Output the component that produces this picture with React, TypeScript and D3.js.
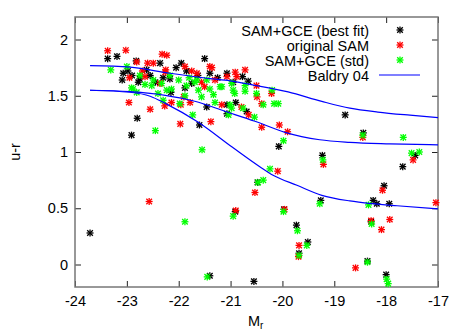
import React, { useRef, useEffect } from 'react';
import * as d3 from 'd3';

const WIDTH = 463;
const HEIGHT = 331;
const MARGIN = { top: 17, right: 25, bottom: 44, left: 75 };

// [M_r, u-r]
const bestFit: [number, number][] = [
  [-23.71, 0.28], [-23.37, 1.83], [-23.19, 1.85], [-23.09, 1.64], [-23.07, 1.70],
  [-22.98, 1.72], [-22.91, 1.15], [-22.82, 1.81], [-22.80, 1.30], [-22.78, 1.62],
  [-22.75, 1.65], [-22.62, 1.73], [-22.45, 1.62], [-22.36, 1.79], [-22.30, 1.66],
  [-22.17, 1.65], [-22.15, 1.53], [-22.05, 1.75], [-21.95, 1.79], [-21.88, 1.57],
  [-21.85, 1.72], [-21.63, 1.68], [-21.60, 1.24], [-21.50, 1.83], [-21.46, 1.40],
  [-21.40, 1.70], [-21.40, -0.10], [-21.07, 1.70], [-21.07, 1.42], [-21.07, 1.34],
  [-20.95, 1.62], [-20.91, 0.47], [-20.90, 1.44], [-20.77, 1.67], [-20.69, 1.36],
  [-20.66, 1.63], [-20.55, -0.15], [-20.48, 0.73], [-20.07, 1.05], [-19.97, 0.49],
  [-19.73, 0.35], [-19.68, 0.10], [-19.51, 0.20], [-19.26, 0.57], [-19.23, 0.97],
  [-18.79, 1.33], [-18.44, 1.17], [-18.36, 0.03], [-18.29, 0.38], [-18.25, 0.57],
  [-18.18, 0.54], [-18.04, 0.70], [-18.00, -0.09], [-17.94, 0.54], [-17.68, 0.87],
  [-17.44, 0.97], [-22.90, 1.68], [-22.55, 1.68], [-21.75, 1.61], [-21.25, 1.66],
];

const originalSam: [number, number][] = [
  [-23.37, 1.90], [-23.02, 1.905], [-22.96, 1.44], [-22.81, 1.80], [-22.65, 1.67],
  [-22.60, 1.79], [-22.57, 0.56], [-22.55, 1.38], [-22.49, 1.79], [-22.36, 1.61],
  [-22.32, 1.87], [-22.27, 1.41], [-22.26, 1.71], [-22.25, 1.73], [-22.23, 1.86],
  [-22.14, 1.44], [-21.97, 1.25], [-21.96, 1.42], [-21.90, 1.49], [-21.88, 1.76],
  [-21.78, 1.44], [-21.75, 1.72], [-21.56, 1.62], [-21.40, 1.76], [-21.38, 1.27],
  [-21.36, 1.75], [-21.30, 1.64], [-21.17, 1.42], [-21.07, 1.67], [-20.91, 1.71],
  [-20.90, 0.48], [-20.88, 1.67], [-20.79, 1.40], [-20.72, 1.73], [-20.65, 1.33],
  [-20.53, 0.64], [-20.50, 1.59], [-20.49, 1.49], [-20.40, 1.43], [-20.40, 1.22],
  [-20.21, 1.52], [-20.09, 0.83], [-20.06, 1.24], [-19.96, 0.49], [-19.90, 1.18],
  [-19.69, 0.07], [-19.68, 0.17], [-19.21, 0.89], [-18.59, -0.03], [-18.45, 1.13],
  [-18.29, 0.39], [-18.09, 0.31], [-18.07, 0.66], [-17.93, 0.40], [-17.48, 0.93],
  [-17.04, 0.55], [-22.95, 1.66], [-22.70, 1.72], [-21.65, 1.70], [-21.50, 1.58],
];

const gceStd: [number, number][] = [
  [-23.31, 1.73], [-23.00, 1.76], [-22.91, 1.57], [-22.88, 1.56], [-22.81, 1.53],
  [-22.75, 1.68], [-22.52, 1.59], [-22.49, 1.64], [-22.45, 1.19], [-22.33, 1.61],
  [-22.30, 1.46], [-22.23, 1.55], [-22.17, 1.68], [-22.14, 1.56], [-22.00, 1.64],
  [-21.98, 1.43], [-21.88, 1.50], [-21.88, 0.38], [-21.85, 1.59], [-21.73, 1.33],
  [-21.69, 1.62], [-21.65, 1.64], [-21.62, 1.55], [-21.56, 1.49], [-21.55, 1.02],
  [-21.46, 1.64], [-21.45, -0.11], [-21.33, 1.51], [-21.30, 1.44], [-21.20, 1.58],
  [-21.17, 1.58], [-21.04, 1.33], [-21.01, 1.42], [-20.98, 1.61], [-20.98, 1.39],
  [-20.95, 1.55], [-20.95, 0.43], [-20.92, 1.52], [-20.76, 1.39], [-20.72, 1.54],
  [-20.72, 1.59], [-20.54, 1.31], [-20.50, 1.52], [-20.47, 0.73], [-20.37, 1.42],
  [-20.37, 0.75], [-20.24, 0.85], [-20.20, 1.55], [-20.16, 1.43], [-20.08, 1.43],
  [-19.98, 1.10], [-19.98, 0.47], [-19.71, 0.30], [-19.68, 0.08], [-19.53, 0.17],
  [-19.28, 0.54], [-19.22, 0.93], [-18.45, 1.15], [-18.36, 0.02], [-18.34, 0.53],
  [-18.28, 0.36], [-17.99, -0.13], [-17.96, -0.17], [-17.67, 1.13], [-17.51, 0.99],
  [-17.36, 1.00], [-22.65, 1.60], [-22.40, 1.52], [-21.80, 1.66], [-21.40, 1.56],
];

// Baldry 04 curves
const baldryTop: [number, number][] = [
  [-23.71, 1.767], [-22.94, 1.754], [-22.17, 1.70], [-21.40, 1.653], [-21.01, 1.633],
  [-20.53, 1.593], [-19.89, 1.534], [-19.24, 1.45], [-18.70, 1.39], [-18.16, 1.355],
  [-17.54, 1.327], [-17.0, 1.306],
];
const baldryMid: [number, number][] = [
  [-23.71, 1.549], [-22.94, 1.536], [-22.26, 1.504], [-21.69, 1.451], [-21.11, 1.362],
  [-20.53, 1.273], [-19.95, 1.175], [-19.28, 1.109], [-18.70, 1.086], [-17.93, 1.073],
  [-17.0, 1.064],
];
const baldryLow: [number, number][] = [
  [-23.71, 1.549], [-22.94, 1.531], [-22.55, 1.496], [-22.25, 1.43], [-21.63, 1.267],
  [-20.97, 1.044], [-20.43, 0.867], [-20.18, 0.793], [-19.72, 0.704], [-19.24, 0.615],
  [-18.70, 0.565], [-18.27, 0.541], [-17.79, 0.522], [-17.0, 0.495],
];

const xTicks = [-24, -23, -22, -21, -20, -19, -18, -17];
const yTicks = [0, 0.5, 1, 1.5, 2];

const series = [
  { label: 'SAM+GCE (best fit)', data: bestFit, color: '#000000' },
  { label: 'original SAM', data: originalSam, color: '#ff0000' },
  { label: 'SAM+GCE (std)', data: gceStd, color: '#00ff00' },
];

const FONT = '"Liberation Sans", Arial, sans-serif';

function star(sel: any, color: string) {
  // gnuplot-style asterisk: + and x together
  const a = 3.5, b = 2.8;
  sel.append('line').attr('x1', -a).attr('x2', a).attr('y1', 0).attr('y2', 0);
  sel.append('line').attr('x1', 0).attr('x2', 0).attr('y1', -a).attr('y2', a);
  sel.append('line').attr('x1', -b).attr('x2', b).attr('y1', -b).attr('y2', b);
  sel.append('line').attr('x1', -b).attr('x2', b).attr('y1', b).attr('y2', -b);
  sel.selectAll('line').attr('stroke', color).attr('stroke-width', 1.3);
}

export default function App() {
  const svgRef = useRef<SVGSVGElement | null>(null);

  useEffect(() => {
    const svg = d3.select(svgRef.current);
    svg.selectAll('*').remove();

    const w = WIDTH - MARGIN.left - MARGIN.right;
    const h = HEIGHT - MARGIN.top - MARGIN.bottom;

    const x = d3.scaleLinear().domain([-24, -17]).range([0, w]);
    const y = d3.scaleLinear().domain([-0.2, 2.2]).range([h, 0]);

    const g = svg.append('g').attr('transform', `translate(${MARGIN.left},${MARGIN.top})`);

    const styleAxis = (ax: any) => {
      ax.select('.domain').remove();
      ax.selectAll('line').attr('stroke', '#222').attr('stroke-width', 1);
      ax.selectAll('text').attr('fill', '#000').attr('font-size', '14.5px').attr('font-family', FONT);
    };

    const fmt = (d: any) => String(d);

    styleAxis(g.append('g').attr('transform', `translate(0,${h})`)
      .call(d3.axisBottom(x).tickValues(xTicks).tickSizeInner(-6).tickSizeOuter(0).tickPadding(9).tickFormat(fmt)));
    styleAxis(g.append('g')
      .call(d3.axisTop(x).tickValues(xTicks).tickSizeInner(-6).tickSizeOuter(0).tickFormat(() => '')));
    styleAxis(g.append('g')
      .call(d3.axisLeft(y).tickValues(yTicks).tickSizeInner(-6).tickSizeOuter(0).tickPadding(7).tickFormat(fmt)));
    styleAxis(g.append('g').attr('transform', `translate(${w},0)`)
      .call(d3.axisRight(y).tickValues(yTicks).tickSizeInner(-6).tickSizeOuter(0).tickFormat(() => '')));

    // border
    g.append('rect')
      .attr('x', 0).attr('y', 0).attr('width', w).attr('height', h)
      .attr('fill', 'none').attr('stroke', '#777').attr('stroke-width', 1.5);

    // points
    series.forEach(s => {
      const pts = g.append('g');
      s.data.forEach(d => {
        const m = pts.append('g').attr('transform', `translate(${x(d[0])},${y(d[1])})`);
        star(m, s.color);
      });
    });

    // Baldry 04 curves
    const line = d3.line<[number, number]>()
      .x(d => x(d[0])).y(d => y(d[1]))
      .curve(d3.curveMonotoneX);
    [baldryTop, baldryMid, baldryLow].forEach(c => {
      g.append('path').attr('d', line(c) as string)
        .attr('fill', 'none').attr('stroke', '#0000ff').attr('stroke-width', 1.2);
    });

    // legend
    const leg = svg.append('g');
    const rows = [...series.map(s => s.label), 'Baldry 04'];
    rows.forEach((label, i) => {
      const cy = 30 + i * 15;
      leg.append('text')
        .attr('x', 369).attr('y', cy + 5.5)
        .attr('text-anchor', 'end')
        .attr('font-size', '14.5px').attr('font-family', FONT).attr('fill', '#000')
        .text(label);
      if (i < series.length) {
        star(leg.append('g').attr('transform', `translate(400,${cy})`), series[i].color);
      } else {
        leg.append('line').attr('x1', 379).attr('x2', 420).attr('y1', cy).attr('y2', cy)
          .attr('stroke', '#0000ff').attr('stroke-width', 1.2);
      }
    });

    // axis labels
    svg.append('text')
      .attr('transform', `translate(20,${MARGIN.top + h / 2}) rotate(-90)`)
      .attr('text-anchor', 'middle')
      .attr('font-size', '14.5px').attr('font-family', FONT).attr('fill', '#000')
      .text('u-r');

    const xl = svg.append('text')
      .attr('x', 248).attr('y', 326)
      .attr('font-size', '14.5px').attr('font-family', FONT).attr('fill', '#000');
    xl.append('tspan').text('M');
    xl.append('tspan').attr('dy', 3).attr('font-size', '10px').text('r');
  }, []);

  return (
    <svg
      ref={svgRef}
      width={WIDTH}
      height={HEIGHT}
      style={{ position: 'absolute', left: 0, top: 0, background: '#fff' }}
    />
  );
}
